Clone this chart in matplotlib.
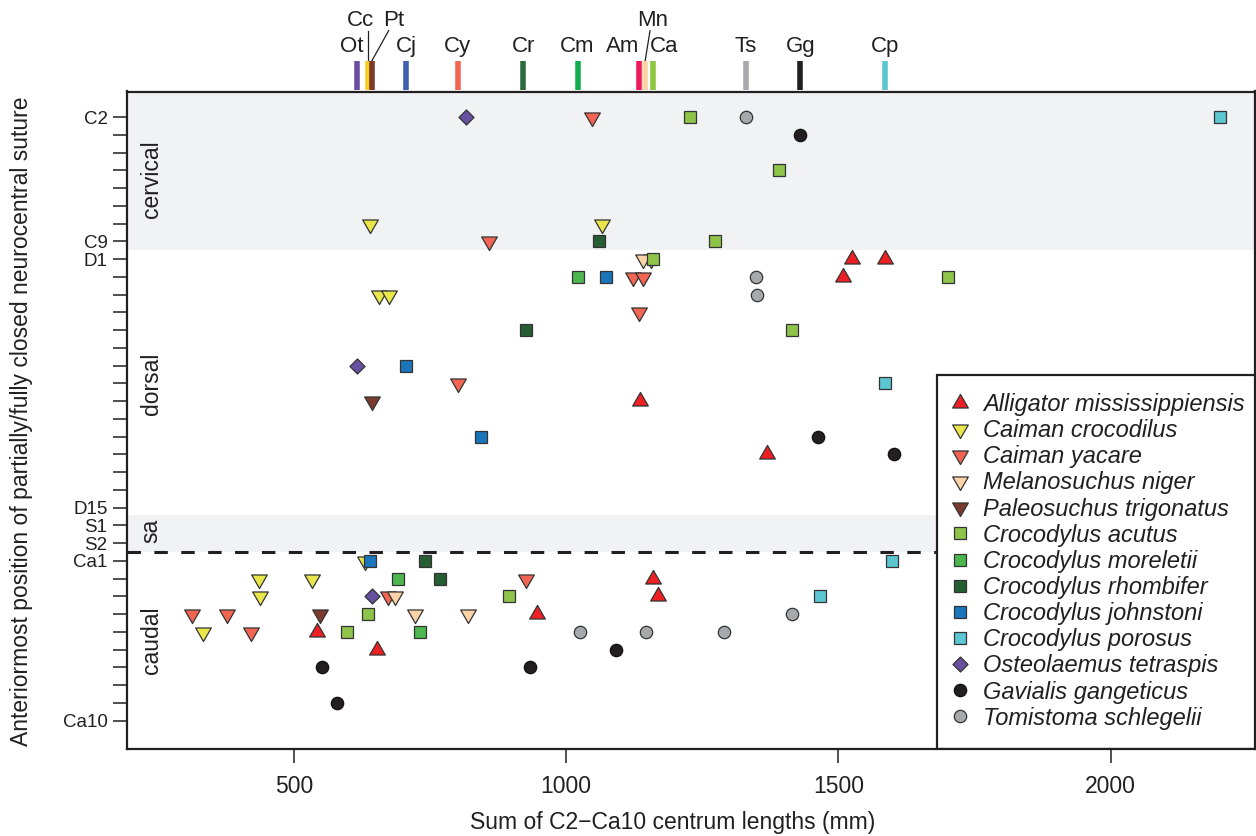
import matplotlib
matplotlib.use('Agg')
import matplotlib.pyplot as plt
from matplotlib.path import Path
from matplotlib.patches import Rectangle
from matplotlib.lines import Line2D
import matplotlib.transforms as mtransforms

plt.rcParams['font.family'] = ['Liberation Sans', 'DejaVu Sans']

# ---------------- data ----------------
vertebrae = (['C%d' % i for i in range(2, 10)] + ['D%d' % i for i in range(1, 16)]
             + ['S1', 'S2'] + ['Ca%d' % i for i in range(1, 11)])
vpos = {v: i + 2 for i, v in enumerate(vertebrae)}
ytick_labels = ['C2', 'C9', 'D1', 'D15', 'S1', 'S2', 'Ca1', 'Ca10']

species = ['Alligator mississippiensis', 'Caiman crocodilus', 'Caiman yacare',
           'Melanosuchus niger', 'Paleosuchus trigonatus', 'Crocodylus acutus',
           'Crocodylus moreletii', 'Crocodylus rhombifer', 'Crocodylus johnstoni',
           'Crocodylus porosus', 'Osteolaemus tetraspis', 'Gavialis gangeticus',
           'Tomistoma schlegelii']

am_x = [1524, 1586, 1509, 1136, 1369, 1160, 1169, 947, 542, 652]
am_v = ['D1', 'D1', 'D2', 'D9', 'D12', 'Ca2', 'Ca3', 'Ca4', 'Ca5', 'Ca6']
cc_x = [639, 1066, 657, 674, 631, 435, 533, 438, 333]
cc_v = ['C8', 'C8', 'D3', 'D3', 'Ca1', 'Ca2', 'Ca2', 'Ca3', 'Ca5']
cy_x = [1047, 859, 1122, 1141, 1134, 802, 926, 672, 312, 378, 421]
cy_v = ['C2', 'C9', 'D2', 'D2', 'D4', 'D8', 'Ca2', 'Ca3', 'Ca4', 'Ca4', 'Ca5']
mn_x = [1156, 1142, 686, 723, 820]
mn_v = ['D1', 'D1', 'Ca3', 'Ca4', 'Ca4']
pt_x = [643, 548]
pt_v = ['D9', 'Ca4']
ca_x = [1227, 1390, 1274, 1160, 1702, 1414, 895, 636, 598]
ca_v = ['C2', 'C5', 'C9', 'D1', 'D2', 'D5', 'Ca3', 'Ca4', 'Ca5']
cm_x = [1021, 692, 731]
cm_v = ['D2', 'Ca2', 'Ca5']
cr_x = [1061, 926, 741, 768]
cr_v = ['C9', 'D5', 'Ca1', 'Ca2']
cj_x = [1073, 705, 844, 640]
cj_v = ['D2', 'D7', 'D11', 'Ca1']
cp_x = [2201, 1586, 1598, 1467]
cp_v = ['C2', 'D8', 'Ca1', 'Ca3']
ot_x = [816, 616, 643]
ot_v = ['C2', 'D7', 'Ca3']
gg_x = [1429, 1462, 1602, 552, 933, 579, 1092]
gg_v = ['C3', 'D11', 'D12', 'Ca7', 'Ca7', 'Ca9', 'Ca6']
ts_x = [1330, 1349, 1351, 1415, 1026, 1147, 1289]
ts_v = ['C2', 'D2', 'D3', 'Ca4', 'Ca5', 'Ca5', 'Ca5']

size_abbrev = ['Ot', 'Cc', 'Pt', 'Cj', 'Cy', 'Cr', 'Cm', 'Am', 'Mn', 'Ca', 'Ts', 'Gg', 'Cp']
size_mm = [616, 636, 643, 706, 801, 921, 1021, 1134, 1145, 1160, 1330, 1430, 1586]

xticks = [500, 1000, 1500, 2000]

# ---------------- styles ----------------
tri_up = Path([(0, 1), (-0.866, -0.5), (0.866, -0.5), (0, 1)],
              [Path.MOVETO, Path.LINETO, Path.LINETO, Path.CLOSEPOLY])
tri_dn = Path([(0, -1), (-0.866, 0.5), (0.866, 0.5), (0, -1)],
              [Path.MOVETO, Path.LINETO, Path.LINETO, Path.CLOSEPOLY])
diamond = Path([(0, 1), (1, 0), (0, -1), (-1, 0), (0, 1)],
               [Path.MOVETO, Path.LINETO, Path.LINETO, Path.LINETO, Path.CLOSEPOLY])

TRI, SQ, CIR, DIA = 13.0, 8.9, 8.9, 10.8
styles = [
    (tri_up, TRI, '#ED2024'),
    (tri_dn, TRI, '#E9E64B'),
    (tri_dn, TRI, '#F26552'),
    (tri_dn, TRI, '#FBD3A6'),
    (tri_dn, TRI, '#7A3B2E'),
    ('s', SQ, '#8DC449'),
    ('s', SQ, '#4DB64F'),
    ('s', SQ, '#265E34'),
    ('s', SQ, '#1B75BB'),
    ('s', SQ, '#5CC6D3'),
    (diamond, DIA, '#6650A0'),
    ('o', CIR, '#231F20'),
    ('o', CIR, '#A6A8AB'),
]
series = [(am_x, am_v), (cc_x, cc_v), (cy_x, cy_v), (mn_x, mn_v), (pt_x, pt_v),
          (ca_x, ca_v), (cm_x, cm_v), (cr_x, cr_v), (cj_x, cj_v), (cp_x, cp_v),
          (ot_x, ot_v), (gg_x, gg_v), (ts_x, ts_v)]

size_colors = ['#6A4FA0', '#F4D11F', '#7B3A2A', '#3F5FAD', '#F26552', '#2B6A3C',
               '#12AD4B', '#EC1A5C', '#FBD3A6', '#8DC63F', '#A7A9AC', '#231F20', '#5BC5D0']
# label offsets (mm) relative to the tick, and row (0 = lower, 1 = upper)
label_dx = {'Ot': -10, 'Cc': -13, 'Pt': 40, 'Am': -31, 'Mn': 14, 'Ca': 20}
label_row = {'Cc': 1, 'Pt': 1, 'Mn': 1}

INK = '#231F20'
EDGE = '#333333'

# ---------------- figure ----------------
fig = plt.figure(figsize=(12.56, 8.36), dpi=100)
W, H = 1256, 836
left_px, right_px, top_px, bot_px = 127, 1255, 91.5, 749
ax = fig.add_axes([left_px / W, 1 - bot_px / H, (right_px - left_px) / W, (bot_px - top_px) / H])

ax.set_xlim(193.5, 2265)
ax.set_ylim(37.6, 0.55)

band = '#F1F2F4'
ax.axhspan(0.0, 9.5, color=band, lw=0, zorder=0)
ax.axhspan(24.4, 26.5, color=band, lw=0, zorder=0)
ax.axhline(26.5, color=INK, lw=2.2, dashes=(4.4, 4.4), zorder=1)

for (xs, vs), (mk, ms, col) in zip(series, styles):
    ys = [vpos[v] for v in vs]
    ax.plot(xs, ys, linestyle='none', marker=mk, markersize=ms,
            markerfacecolor=col, markeredgecolor=EDGE if col != '#231F20' else '#111111',
            markeredgewidth=0.9, zorder=3)

# axes styling
for sp in ax.spines.values():
    sp.set_linewidth(1.6)
    sp.set_color(INK)
    sp.set_zorder(10)
ax.set_xticks(xticks)
ax.set_xticklabels([str(t) for t in xticks])
ax.set_yticks([vpos[v] for v in vertebrae])
ax.set_yticklabels([v if v in ytick_labels else '' for v in vertebrae])
ax.tick_params(axis='x', length=10, width=1.1, color=INK, labelsize=16.5, pad=9, labelcolor=INK)
ax.tick_params(axis='y', length=10, width=1.1, color=INK, labelsize=13.5, pad=4, labelcolor=INK)

# region labels
btrans = mtransforms.blended_transform_factory(ax.transAxes, ax.transData)
for txt, yc in [('cervical', 5.5), ('dorsal', 17), ('sa', 25.3), ('caudal', 31.5)]:
    ax.text(0.0213, yc, txt, transform=btrans, rotation=90, ha='center', va='center',
            fontsize=16.5, color=INK, zorder=4)

# top size ticks
ttrans = mtransforms.blended_transform_factory(ax.transData, ax.transAxes)
y_lo, y_hi = 1.002, 1.0464
for ab, xv, col in zip(size_abbrev, size_mm, size_colors):
    ax.plot([xv, xv], [y_lo, y_hi], color=col, lw=4, solid_capstyle='butt',
            transform=ttrans, clip_on=False, zorder=5)
    row = label_row.get(ab, 0)
    ty = 1.0677 if row == 0 else 1.108
    ax.text(xv + label_dx.get(ab, 0), ty, ab, transform=ttrans, ha='center', va='center',
            fontsize=16, color=INK, clip_on=False)
    if row == 1:
        top_dx = {'Cc': 0, 'Pt': 31, 'Mn': 9}[ab]
        ax.plot([xv + top_dx, xv], [1.0925, 1.0464], color=INK, lw=0.9,
                transform=ttrans, clip_on=False)

# axis titles
fig.text(673 / W, 1 - 822 / H, 'Sum of C2\u2212Ca10 centrum lengths (mm)', ha='center', va='center',
         fontsize=16.5, color=INK)
fig.text(22 / W, 1 - 421 / H, 'Anteriormost position of partially/fully closed neurocentral suture',
         ha='center', va='center', rotation=90, fontsize=16.5, color=INK)

# legend
fx0 = (936.7 - left_px) / (right_px - left_px)
fy1 = (bot_px - 375) / (bot_px - top_px)
ax.add_patch(Rectangle((fx0, 0), 1.2 - fx0, fy1, transform=ax.transAxes, facecolor='white',
                       edgecolor=INK, lw=1.6, zorder=8, clip_on=True))
handles = [Line2D([], [], linestyle='none', marker=mk, markersize=ms, markerfacecolor=col,
                  markeredgecolor=EDGE if col != '#231F20' else '#111111', markeredgewidth=0.9)
           for (mk, ms, col) in styles]
leg_x = (948.2 - left_px) / (right_px - left_px)
leg_y = (bot_px - 393) / (bot_px - top_px)
leg = ax.legend(handles, species, loc='upper left', bbox_to_anchor=(leg_x, leg_y),
                frameon=False, prop={'style': 'italic', 'size': 17}, handlelength=1.0,
                handletextpad=0.46, labelspacing=0.133, borderpad=0, borderaxespad=0,
                numpoints=1)
leg.set_zorder(9)
for t in leg.get_texts():
    t.set_color(INK)

fig.savefig('out.png', dpi=100)
